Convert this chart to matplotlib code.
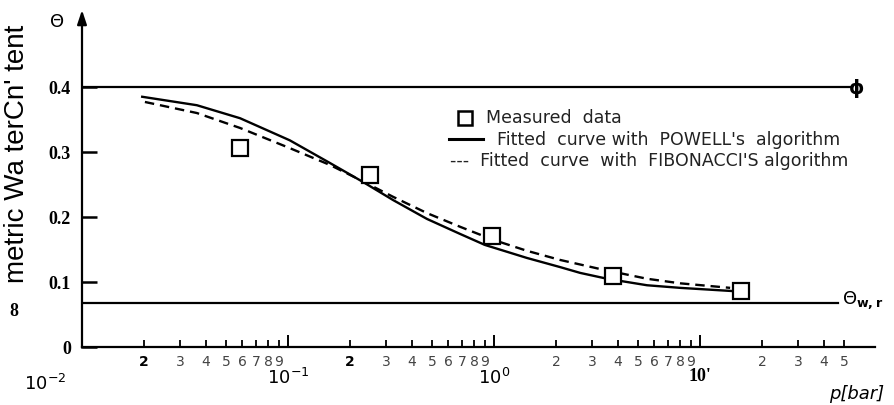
import numpy as np
import matplotlib.pyplot as plt
from matplotlib.transforms import ScaledTranslation

# measured points
p_meas = [0.0585, 0.25, 0.978, 3.78, 15.8]
theta_meas = [0.306, 0.265, 0.171, 0.109, 0.086]

# fitted curve, POWELL
p_powell = [0.0196, 0.0361, 0.0585, 0.102, 0.160, 0.231, 0.324, 0.473, 0.684,
            0.904, 1.445, 2.09, 2.62, 3.54, 5.53, 8.0, 14.5]
theta_powell = [0.385, 0.372, 0.352, 0.318, 0.283, 0.254, 0.226, 0.197, 0.174,
                0.157, 0.137, 0.123, 0.114, 0.105, 0.095, 0.091, 0.086]

# fitted curve, FIBONACCI
p_fibo = [0.0202, 0.0361, 0.0585, 0.102, 0.160, 0.224, 0.324, 0.473, 0.684,
          0.989, 1.445, 2.09, 3.27, 5.53, 8.0, 14.0]
theta_fibo = [0.377, 0.360, 0.337, 0.306, 0.280, 0.257, 0.231, 0.206, 0.185,
              0.165, 0.148, 0.134, 0.120, 0.105, 0.098, 0.091]

phi = 0.40
theta_wr = 0.068

ytick_vals = [0, 0.1, 0.2, 0.3, 0.4]
ytick_labels = ["0", "0.1", "0.2", "0.3", "0.4"]
xmajor_vals = [0.01, 0.1, 1, 10]
xmajor_labels = [r"$10^{-2}$", r"$10^{-1}$", r"$10^{0}$", "10'"]
minor_digits = [2, 3, 4, 5, 6, 7, 8, 9]

W, H = 895, 405


def fx(x):
    return x / W


def fy(y):
    return 1 - y / H


fig = plt.figure(figsize=(8.95, 4.05), dpi=100)
ax = fig.add_axes([82 / W, 58 / H, 793 / W, 337 / H])
ax.set_xscale("log")
ax.set_xlim(0.01, 70.7)
ax.set_ylim(0, 0.5185)

ax.plot(p_powell, theta_powell, color="k", lw=1.7, solid_joinstyle="round")
ax.plot(p_fibo, theta_fibo, color="k", lw=1.7, linestyle=(0, (4, 2.5)))
ax.plot(p_meas, theta_meas, linestyle="none", marker="s", ms=11, mfc="white",
        mec="k", mew=1.6, zorder=5)

ax.axhline(phi, xmax=(850 - 82) / 793, color="k", lw=1.6)
ax.axhline(theta_wr, xmax=(838 - 82) / 793, color="k", lw=1.6)

# axes look
for s in ["top", "right", "left"]:
    ax.spines[s].set_visible(False)
ax.spines["bottom"].set_linewidth(1.6)
ax.annotate("", xy=(0, 1), xytext=(0, -0.002), xycoords="axes fraction",
            arrowprops=dict(arrowstyle="-|>,head_length=0.6,head_width=0.2", lw=1.6,
                            color="k", mutation_scale=14, shrinkA=0, shrinkB=0))

ax.set_yticks(ytick_vals, ytick_labels, fontfamily="Liberation Serif",
              fontweight="bold", fontsize=13)
ax.tick_params(axis="y", direction="in", length=11, width=1.8, pad=8)

ax.set_xticks(xmajor_vals, xmajor_labels, fontsize=13)
minor_vals, minor_labels = [], []
for e in [-2, -1, 0, 1]:
    for d in minor_digits:
        v = d * 10.0 ** e
        if v <= 50:
            minor_vals.append(v)
            minor_labels.append(str(d))
ax.set_xticks(minor_vals, minor_labels, minor=True, fontsize=10, color="#444444")
ax.tick_params(axis="x", which="major", direction="in", length=9, width=1.4, pad=15)
ax.tick_params(axis="x", which="minor", direction="in", length=5, width=1.3, pad=6)

maj = ax.xaxis.get_major_ticks()
maj[0].label1.set_transform(maj[0].label1.get_transform()
                            + ScaledTranslation(-0.37, -0.06, fig.dpi_scale_trans))
maj[3].label1.set_fontfamily("Liberation Serif")
maj[3].label1.set_fontweight("bold")
mino = ax.xaxis.get_minor_ticks()
for i in [0, 8]:
    mino[i].label1.set_fontweight("bold")
    mino[i].label1.set_color("k")

# texts around the frame
fig.text(fx(17), fy(154), "metric Wa terCn' tent", rotation=90, ha="center",
         va="center", fontsize=20, fontfamily="Liberation Sans")
fig.text(fx(14), fy(312), "8", ha="center", va="center", fontsize=13,
         fontfamily="Liberation Serif", fontweight="bold")
fig.text(fx(57), fy(22), "Θ", ha="center", va="center", fontsize=13)
fig.text(fx(857), fy(88), "ϕ", ha="center", va="center", fontsize=14,
         fontweight="bold")
fig.text(fx(842), fy(300), r"$\Theta_{\mathbf{w,r}}$", ha="left", va="center",
         fontsize=13)
fig.text(fx(857), fy(394), "p[bar]", ha="center", va="center", fontsize=13,
         style="italic")

# legend drawn by hand
ax.plot([fx(465)], [fy(118)], transform=fig.transFigure, marker="s", ms=10,
        mfc="white", mec="k", mew=1.8, clip_on=False)
fig.text(fx(486), fy(118), "Measured  data", ha="left", va="center", fontsize=12.5,
         color="#222222")
ax.plot([fx(449), fx(483)], [fy(139), fy(139)], transform=fig.transFigure,
        color="k", lw=2.2, clip_on=False)
fig.text(fx(497), fy(140), "Fitted  curve with  POWELL's  algorithm", ha="left",
         va="center", fontsize=12.5, color="#222222")
fig.text(fx(450), fy(161), "---  Fitted  curve  with  FIBONACCI'S algorithm",
         ha="left", va="center", fontsize=12.5, color="#222222")

plt.savefig("out.png", dpi=100)
